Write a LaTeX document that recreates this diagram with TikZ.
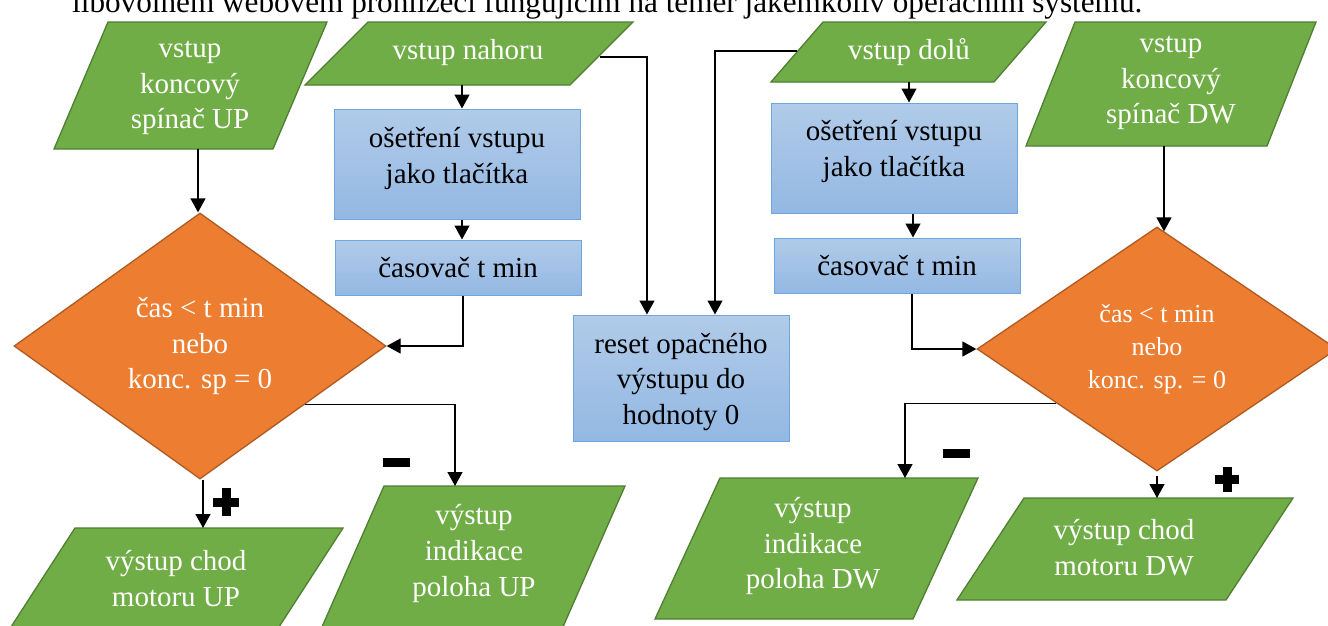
\documentclass[tikz,border=0pt]{standalone}
\usepackage{fontspec}
\setmainfont{Liberation Serif}
\usetikzlibrary{shapes.geometric,arrows.meta,calc}
\definecolor{grn}{HTML}{70AD47}
\definecolor{grnb}{HTML}{507E32}
\definecolor{org}{HTML}{ED7D31}
\definecolor{orgb}{HTML}{AE5A21}
\definecolor{bluet}{HTML}{B1CBE9}
\definecolor{blueb}{HTML}{93B8E3}
\definecolor{bluel}{HTML}{6FA6DC}
\begin{document}
\begin{tikzpicture}[x=1pt,y=-1pt,
  io/.style={fill=grn,draw=grnb,line width=1.3pt,line join=miter},
  dec/.style={shape=diamond,fill=org,draw=orgb,line width=1.3pt,inner sep=0pt,text=white,align=center,font=\fontsize{29}{35.7}\selectfont},
  proc/.style={rectangle,top color=bluet,bottom color=blueb,draw=bluel,line width=1pt,inner sep=0pt,font=\fontsize{29}{35.7}\selectfont},
  wt/.style={text=white,align=center,inner sep=0pt,font=\fontsize{29}{35.7}\selectfont},
  bt/.style={text=black,align=center,inner sep=0pt,font=\fontsize{29}{35.7}\selectfont},
  conn/.style={draw=black,line width=1.3pt,-{Triangle[length=14pt,width=15pt]}},
  sign/.style={fill=black,draw=none}]
\useasboundingbox (0,0) rectangle (1328,625);
\clip (0,0) rectangle (1328,625);

% header line (cut off)
\node[anchor=base west,inner sep=0pt,font=\fontsize{31.2}{37}\selectfont] (hdr) at (72,12)
  {libovolném webovém prohlížeči fungujícím na téměř jakémkoliv operačním systému.};

% input / output parallelograms
\path[io] (108,22) -- (327,22) -- (273,149) -- (54,149) -- cycle;
\node[wt] (tlt) at (190,88) {vstup\\koncový\\spínač UP};

\path[io] (368,22) -- (633,22) -- (570,85) -- (305,85) -- cycle;
\node[wt] (vnt) at (468,53) {vstup nahoru};

\path[io] (823,22) -- (1046,22) -- (994,82) -- (771,82) -- cycle;
\node[wt] (vdt) at (909,52) {vstup dolů};

\path[io] (1075,22) -- (1316,22) -- (1267,146) -- (1026,146) -- cycle;
\node[wt] (dwt) at (1171,83) {vstup\\koncový\\spínač DW};

\path[io] (75,528) -- (343,528) -- (277,630) -- (9,630) -- cycle;
\node[wt] (mupx) at (176,578.5) {výstup chod\\motoru UP};

\path[io] (384,486) -- (625,486) -- (562.5,628) -- (321.5,628) -- cycle;
\node[wt] (iupx) at (474,553.5) {výstup\\indikace\\poloha UP};

\path[io] (720,478) -- (978,478) -- (913,619) -- (655,619) -- cycle;
\node[wt] (idwx) at (813,546) {výstup\\indikace\\poloha DW};

\path[io] (1024,498) -- (1293,498) -- (1226,600) -- (957,600) -- cycle;
\node[wt] (mdwx) at (1124,547.5) {výstup chod\\motoru DW};

% decisions
\node[dec,minimum width=372pt,minimum height=266pt] (dl) at (200,346) {čas < t min\\nebo\\konc. sp = 0};
\node[dec,minimum width=360pt,minimum height=244pt,font=\fontsize{26}{33}\selectfont] (dr) at (1157,349) {čas < t min\\nebo\\konc. sp. = 0};

% processes
\node[proc,minimum width=246pt,minimum height=110pt] (b1) at (457,164) {};
\node[bt] (b1t) at (457,158.5) {ošetření vstupu\\jako tlačítka};
\node[proc,minimum width=246pt,minimum height=55pt] (c1) at (458,267.5) {časovač t min};
\node[proc,minimum width=216pt,minimum height=126pt] (rs) at (681,378) {};
\node[bt] (rst) at (681,382) {reset opačného\\výstupu do\\hodnoty 0};
\node[proc,minimum width=246pt,minimum height=110pt] (b2) at (894,158) {};
\node[bt] (b2t) at (894,151.5) {ošetření vstupu\\jako tlačítka};
\node[proc,minimum width=246pt,minimum height=55pt] (c2) at (897,265.5) {časovač t min};

% connector end points
\coordinate (tlb) at (198,149);
\coordinate (vnb) at (462,85);
\coordinate (vnr) at (600,57);
\coordinate (vdl) at (797,51);
\coordinate (vdb) at (909,82);
\coordinate (b2x) at (913,0);
\coordinate (dwb) at (1164,146);
\coordinate (iupt) at (455,486);
\coordinate (mupt) at (203,528);
\coordinate (idwt) at (905,478);
\coordinate (mdwt) at (1157,498);

% connectors
\draw[conn] (tlb) -- (tlb |- dl.north);
\draw[conn] (vnb) -- (vnb |- b1.north);
\draw[conn] (vnb |- b1.south) -- (vnb |- c1.north);
\draw[conn] ([xshift=5pt]c1.south) |- (dl.east);
\draw[conn] (vnr) -| ([xshift=-34pt]rs.north);
\draw[conn] (vdl) -| ([xshift=34pt]rs.north);
\draw[conn] (vdb) -- (vdb |- b2.north);
\draw[conn] (b2.south -| b2x) -- (c2.north -| b2x);
\draw[conn] ([xshift=15pt]c2.south) |- (dr.west);
\draw[conn] (dwb) -- ([yshift=-5pt]dwb |- dr.north);
\draw[conn] ($(dl.east)!0.44!(dl.south)$) -| (iupt);
\draw[conn] ([xshift=3pt]dl.south) -- (mupt);
\draw[conn] ($(dr.west)!0.443!(dr.south)$) -| (idwt);
\draw[conn] ([yshift=-4pt]dr.south) -- (mdwt);

% signs
\fill[sign] (383,458) rectangle (410,467);
\fill[sign] (943,449) rectangle (970,458);
\fill[sign] (213,497.5) rectangle (239,506.5);
\fill[sign] (221.5,488) rectangle (230.5,516);
\fill[sign] (1215,475) rectangle (1239,484);
\fill[sign] (1222.5,467) rectangle (1231.5,492);
\end{tikzpicture}
\end{document}
